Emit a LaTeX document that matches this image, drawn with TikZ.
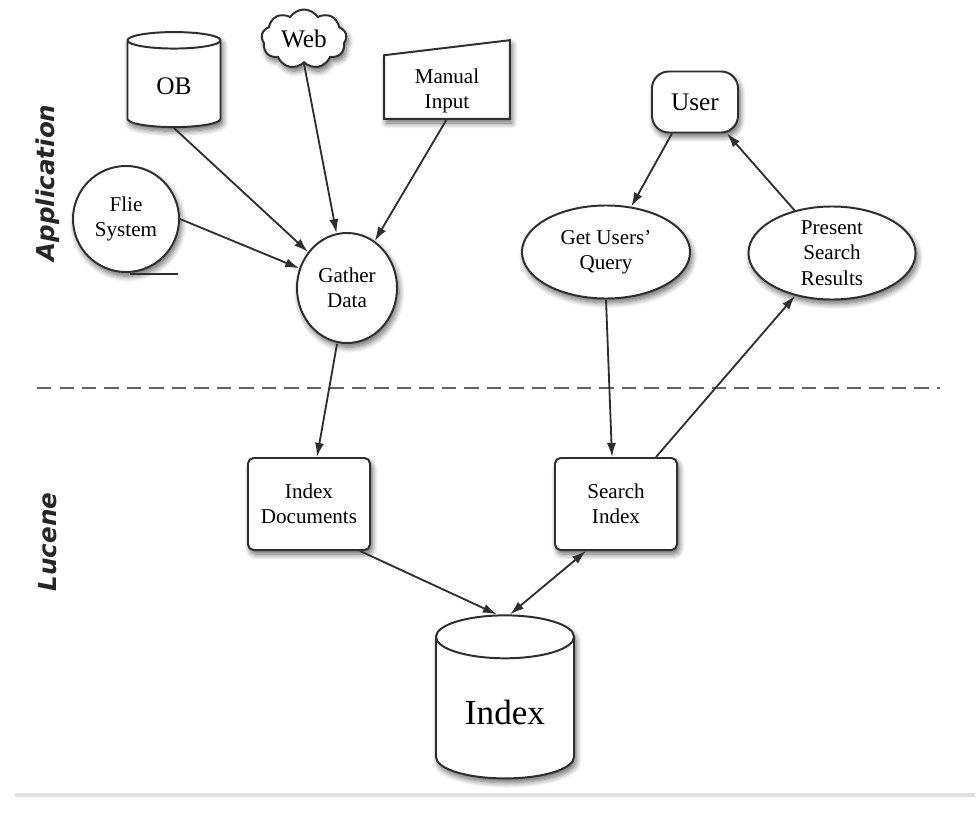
\documentclass[tikz,border=0pt]{standalone}
\usepackage{fontspec}
\setmainfont{Liberation Serif}
\newfontfamily\sidefont{DejaVu Sans}
\usetikzlibrary{shapes.geometric,shapes.symbols,shadows.blur,arrows.meta,calc}
\definecolor{linegray}{HTML}{2E2E2E}

\begin{document}
\begin{tikzpicture}[x=0.025cm,y=-0.025cm,
  >={Latex[length=10pt,width=6.5pt]},
  conn/.style={draw=linegray,line width=1.3pt},
  softshadow/.style={blur shadow={shadow xshift=1.5pt,shadow yshift=-3pt,shadow blur radius=4pt,shadow blur steps=8,shadow opacity=60}},
  boxtext/.style={align=center,font=\fontsize{15}{18}\selectfont},
  box/.style={boxtext,draw=linegray,line width=1.4pt,fill=white,softshadow},
  store/.style={box,cylinder,shape border rotate=90},
  proc/.style={box,ellipse,inner sep=0pt},
  task/.style={box,rectangle,rounded corners=4pt,minimum width=3.05cm,minimum height=2.3cm},
  sidelabel/.style={font=\sidefont\bfseries\itshape\fontsize{17.5}{20}\selectfont,rotate=90,text=black!85}]
  \useasboundingbox (0,0) rectangle (979,814);
  \node[sidelabel] (app) at (48,183) {Application};
  \node[sidelabel] (luc) at (48,542) {Lucene};
  % sources
  \node[store,aspect=0.37,minimum width=2.325cm,minimum height=2.375cm,font=\fontsize{18}{21}\selectfont] (ob) at (174,86) {OB};
  \node[box,cloud,cloud puffs=9,cloud puff arc=115,aspect=1.4,minimum width=2.125cm,minimum height=1.475cm,inner sep=0pt,font=\fontsize{18}{21}\selectfont] (web) at (304,39) {Web};
  \path (447,87) node[minimum width=3.125cm,minimum height=1.575cm] (manual) {};
  \draw[box] (manual.south west) -- (manual.south east) -- ([yshift=0.375cm]manual.north east) -- (manual.north west) -- cycle;
  \node[boxtext] (manualtext) at ($(manual)+(0,4)$) {Manual\\Input};
  \node[box,circle,minimum size=2.65cm,inner sep=0pt] (flie) at (126,219) {Flie\\System};
  \draw[linegray,line width=1.2pt] ($(flie.south)+(4,1)$) coordinate (fl) -- ++(48,0);
  \node[proc,minimum width=2.5cm,minimum height=2.75cm] (gather) at (347,288) {Gather\\Data};
  % user side
  \node[box,rectangle,rounded corners=12pt,minimum width=2.15cm,minimum height=1.525cm,font=\fontsize{18}{21}\selectfont] (user) at (695,102) {User};
  \node[proc,minimum width=4.2cm,minimum height=2.325cm] (query) at (606,252) {Get Users'\\Query};
  \node[proc,minimum width=4.175cm,minimum height=2.325cm] (present) at (832,253) {Present\\Search\\Results};
  \coordinate (dl) at (37,388);
  \coordinate (dr) at (940,388);
  \draw[linegray!75,line width=1.5pt,dash pattern=on 10pt off 6pt] (dl) -- (dr);
  % lucene
  \node[task] (idxdoc) at (309,504) {Index\\Documents};
  \node[task] (search) at (616,504) {Search\\Index};
  \node[store,aspect=0.48,minimum width=3.45cm,minimum height=4.075cm,font=\fontsize{25}{28}\selectfont] (index) at (505,712) {Index};
  \coordinate (bl) at (15,795);
  \coordinate (br) at (975,795);
  \draw[black!12,line width=2.5pt] (bl) -- (br);
  \draw[conn,->] (ob.south) -- (gather);
  \draw[conn,->] (web.south) -- (gather);
  \draw[conn,->] (manual.south) -- (gather);
  \draw[conn,->] (flie.east) -- (gather);
  \draw[conn,->] ($(gather.south)+(-10,0)$) -- ($(idxdoc.north)+(8,0)$);
  \draw[conn,->] ($(user.south)+(-23,0)$) -- (query);
  \draw[conn,->] (present) -- ($(user.south)+(32,0)$);
  \draw[conn,->] (query.south) -- ($(search.north)+(-4,0)$);
  \draw[conn,->] ($(search.north)+(40,0)$) -- (present);
  \draw[conn,->] ($(idxdoc.south)+(51,0)$) -- ($(index.north)+(-8,0)$);
  \draw[conn,<->] ($(search.south)+(-30,0)$) -- ($(index.north)+(5,0)$);
\end{tikzpicture}
\end{document}
